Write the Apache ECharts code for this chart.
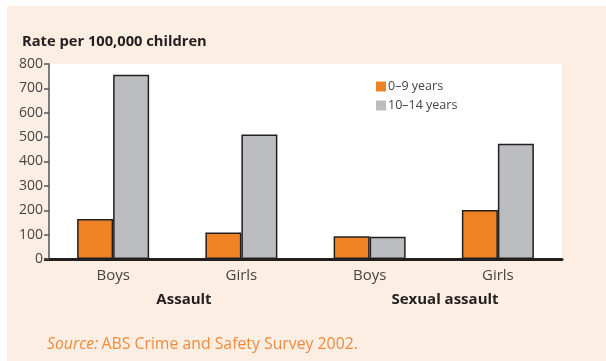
<!DOCTYPE html>
<html><head><meta charset="utf-8">
<script src="https://cdn.jsdelivr.net/npm/echarts@6/dist/echarts.min.js"></script>
<style>html,body{margin:0;padding:0;background:#fff}#c{width:606px;height:361px}</style>
</head><body><div id="c"></div>
<script>
const categories = ['Boys', 'Girls', 'Boys', 'Girls'];
const groups = ['Assault', 'Sexual assault'];
const seriesNames = ['0–9 years', '10–14 years'];
const young = [164, 109, 93, 201];
const older = [756, 511, 91, 473];
const yTicks = [0, 100, 200, 300, 400, 500, 600, 700, 800];
const FONT = '"Open Sans"';

const chart = echarts.init(document.getElementById('c'), null, {renderer: 'canvas'});
chart.setOption({
  animation: false,
  backgroundColor: '#fff',
  graphic: [
    {type: 'rect', z: -10, shape: {x: 7, y: 6, width: 620, height: 380}, style: {fill: '#fdeee4'}},
    {type: 'text', x: 22, y: 42, style: {text: 'Rate per 100,000 children', font: 'bold 14.7px ' + FONT, fill: '#231f20', verticalAlign: 'middle'}},
    {type: 'line', shape: {x1: 44, y1: 259.5, x2: 50, y2: 259.5}, style: {stroke: '#231f20', lineWidth: 3}},
    {type: 'text', x: 184, y: 300, style: {text: groups[0], font: 'bold 15px ' + FONT, fill: '#231f20', align: 'center', verticalAlign: 'middle'}},
    {type: 'text', x: 445, y: 300, style: {text: groups[1], font: 'bold 15px ' + FONT, fill: '#231f20', align: 'center', verticalAlign: 'middle'}},
    {type: 'text', x: 47, y: 344, style: {rich: {
        i: {font: 'italic 15.8px ' + FONT, fill: '#f08a3c'},
        n: {font: '15.8px ' + FONT, fill: '#f08a3c'}
      }, text: '{i|Source:} {n|ABS Crime and Safety Survey 2002.}', verticalAlign: 'middle'}}
  ],
  grid: {left: 49, right: 44, top: 64, bottom: 102, show: true, backgroundColor: '#fff', borderWidth: 0},
  legend: {
    orient: 'vertical', left: 371, top: 75, itemWidth: 10, itemHeight: 10, itemGap: 6,
    icon: 'rect',
    itemStyle: {borderWidth: 0},
    textStyle: {fontFamily: FONT, fontSize: 12.5, color: '#444', padding: [0, 0, 0, -3]},
    data: seriesNames
  },
  xAxis: {
    type: 'category', data: categories,
    axisLine: {show: true, lineStyle: {color: '#231f20', width: 3}},
    axisTick: {show: false},
    axisLabel: {fontFamily: FONT, fontSize: 15, color: '#444', margin: 9}
  },
  yAxis: {
    type: 'value', min: 0, max: 800, interval: 100,
    axisLine: {show: true, lineStyle: {color: '#555', width: 1.5}},
    axisTick: {show: true, length: 5, lineStyle: {color: '#555', width: 1.5}},
    splitLine: {show: false},
    axisLabel: {fontFamily: FONT, fontSize: 14, color: '#444', margin: 6,
      formatter: v => yTicks.includes(v) ? String(v) : ''}
  },
  series: [
    {name: seriesNames[0], type: 'bar', data: young, barWidth: 36, barGap: '0%',
     itemStyle: {color: '#f08226', borderColor: '#231f20', borderWidth: 1.5}},
    {name: seriesNames[1], type: 'bar', data: older, barWidth: 36,
     itemStyle: {color: '#bcbdc0', borderColor: '#231f20', borderWidth: 1.5}}
  ]
});
</script></body></html>
